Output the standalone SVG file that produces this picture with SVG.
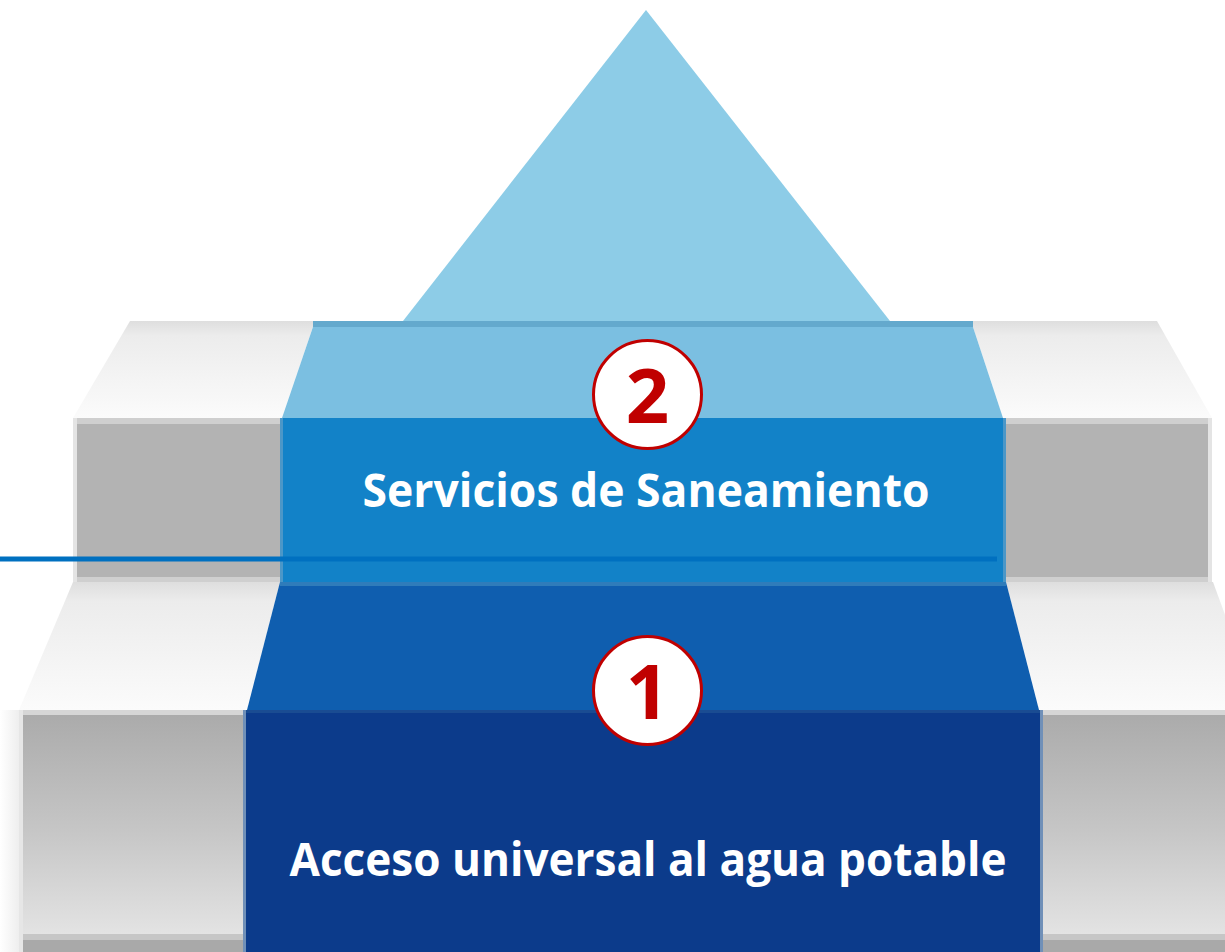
<svg xmlns="http://www.w3.org/2000/svg" width="1225" height="952" viewBox="0 0 1225 952">
<defs>
<style>
.lbl{font-family:"Open Sans","Liberation Sans",sans-serif;font-weight:bold;fill:#ffffff;text-anchor:middle}
.num{font-family:"Open Sans","Liberation Sans",sans-serif;font-weight:bold;fill:#c00000;text-anchor:middle;font-size:76px}
.badge{fill:#ffffff;stroke:#c00000;stroke-width:3}
.band{fill:#cfcfcf}
</style>
<linearGradient id="topface" x1="0" y1="0" x2="0" y2="1">
<stop offset="0" stop-color="#dedede"/>
<stop offset="0.15" stop-color="#ececec"/>
<stop offset="1" stop-color="#fbfbfb"/>
</linearGradient>
<linearGradient id="frontLow" x1="0" y1="0" x2="0" y2="1">
<stop offset="0" stop-color="#aaaaaa"/>
<stop offset="0.5" stop-color="#c6c6c6"/>
<stop offset="1" stop-color="#e8e8e8"/>
</linearGradient>
<linearGradient id="edgeFade" x1="0" y1="0" x2="1" y2="0">
<stop offset="0" stop-color="#ffffff"/>
<stop offset="1" stop-color="#eeeeee"/>
</linearGradient>
</defs>
<rect width="1225" height="952" fill="#ffffff"/>

<g id="step-upper">
<polygon points="130,321 315,321 282,418 73,418" fill="url(#topface)"/>
<polygon points="971,321 1157,321 1212,418 1003,418" fill="url(#topface)"/>
<rect x="73" y="418" width="1139" height="164" fill="#b3b3b3"/>
<rect x="73" y="418" width="1139" height="6" class="band"/>
<rect x="73" y="577" width="1139" height="5" class="band"/>
<rect x="73" y="418" width="4" height="164" fill="#e4e4e4"/>
<rect x="1208" y="418" width="4" height="164" fill="#e4e4e4"/>
</g>

<g id="step-lower">
<polygon points="73,582 280,582 247,710 19,710" fill="url(#topface)"/>
<polygon points="1006,582 1213,582 1260,710 1039,710" fill="url(#topface)"/>
<rect x="0" y="710" width="19" height="242" fill="url(#edgeFade)"/>
<rect x="19" y="710" width="1206" height="242" fill="url(#frontLow)"/>
<rect x="19" y="710" width="1206" height="5" fill="#d6d6d6"/>
<rect x="19" y="934" width="1206" height="6" fill="#c6c6c6"/>
<rect x="19" y="940" width="1206" height="12" fill="#a9a9a9"/>
<rect x="19" y="710" width="4" height="242" fill="#e6e6e6"/>
</g>

<g id="peak">
<polygon points="646,10 890,321 403,321" fill="#8dcce7"/>
</g>

<g id="level-2">
<polygon points="315,321 971,321 1003,418 282,418" fill="#7bbfe1"/>
<rect x="313" y="321" width="660" height="6" fill="#64a9cd"/>
<rect x="280" y="418" width="726" height="164" fill="#1282c8"/>
<rect x="280" y="418" width="3" height="164" fill="#4b97c8"/>
<rect x="1003" y="418" width="3" height="164" fill="#4b97c8"/>
<text class="lbl" x="646" y="507" font-size="47" textLength="567" lengthAdjust="spacingAndGlyphs">Servicios de Saneamiento</text>
<circle class="badge" cx="647.5" cy="394.5" r="54"/>
<text class="num" x="647.5" y="423">2</text>
</g>

<g id="level-1">
<polygon points="280,582 1006,582 1039,710 247,710" fill="#0f5eaf"/>
<rect x="280" y="582" width="726" height="4" fill="#2f7cba"/>
<rect x="246" y="710" width="794" height="242" fill="#0c3b8b"/>
<rect x="246" y="710" width="794" height="3" fill="#1a4c92"/>
<rect x="243" y="710" width="3" height="242" fill="#7090b8"/>
<rect x="1040" y="710" width="3" height="242" fill="#7090b8"/>
<text class="lbl" x="648" y="876" font-size="47" textLength="717" lengthAdjust="spacingAndGlyphs">Acceso universal al agua potable</text>
<circle class="badge" cx="647.5" cy="690.5" r="54"/>
<text class="num" x="647.5" y="719">1</text>
</g>

<g id="connectors">
<line x1="0" y1="559" x2="997" y2="559" stroke="#0070c0" stroke-width="5"/>
</g>
</svg>
